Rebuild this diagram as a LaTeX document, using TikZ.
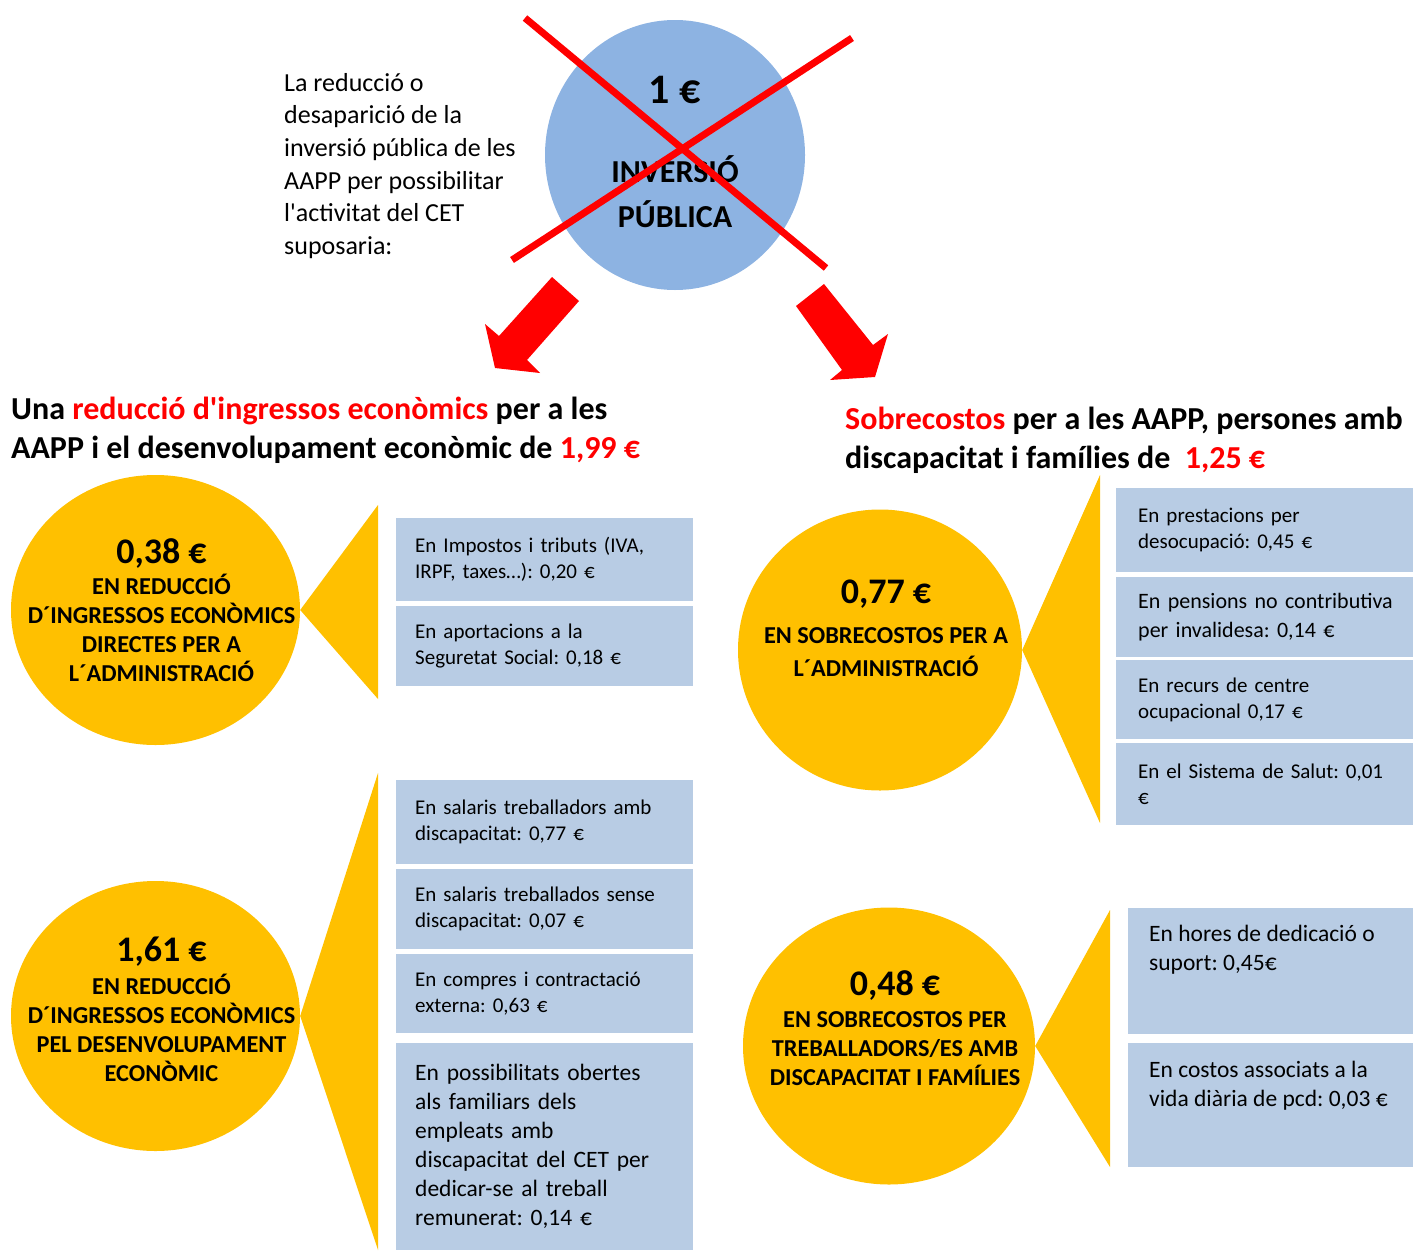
\documentclass[tikz,border=0pt]{standalone}
\usepackage{fontspec}
\setmainfont{Carlito}[Ligatures=TeXOff]
\usetikzlibrary{shapes.geometric}
\frenchspacing

\definecolor{coinyellow}{RGB}{255,192,0}
\definecolor{itemblue}{RGB}{184,204,228}
\definecolor{investblue}{RGB}{141,179,226}
\definecolor{crossred}{RGB}{255,0,0}

\newcommand{\redtxt}[1]{\textcolor{crossred}{#1}}
\newcommand{\itemfont}{\fontsize{21}{26}\selectfont}
\newcommand{\itemfontbig}{\fontsize{23.5}{29}\selectfont}
\newcommand{\capsfont}{\fontsize{24.3}{29}\selectfont\bfseries}
\newcommand{\sumfont}{\fontsize{36}{40}\selectfont\bfseries}
\newcommand{\headfont}{\fontsize{32}{39}\selectfont\bfseries}

\begin{document}
\begin{tikzpicture}[x=1pt,y=-1pt]
\tikzstyle{every node}+=[inner sep=0pt]
\tikzstyle{coin}=[ellipse, fill=coinyellow]
\tikzstyle{cointext}=[align=center, font=\capsfont, xshift=6pt]
\tikzstyle{item}=[anchor=north west, fill=itemblue, align=left, font=\itemfont, inner xsep=19pt, text width=259pt]
\tikzstyle{itemR}=[item, inner xsep=22pt, text width=275pt]
\tikzstyle{head}=[anchor=north west, align=left, font=\headfont]
\useasboundingbox (0,0) rectangle (1413,1250);

% crossed out investment
\node [ellipse, fill=investblue, minimum width=260pt, minimum height=270pt] (invest) at (675,155) {};
\node [font=\fontsize{42}{46}\selectfont\bfseries] (investsum) at (675,90) {1 €};
\node [align=center, font=\fontsize{32}{45}\selectfont\bfseries] (investlbl) at (675,192) {INVERSIÓ\\PÚBLICA};
\draw [crossred, line width=7pt] (525,18) -- (826,268);
\draw [crossred, line width=7pt] (852,38) -- (512,260);
\node [anchor=north west, align=left, font=\fontsize{26}{32.6}\selectfont] (intro) at (284,73) {La reducció o\\desaparició de la\\inversió pública de les\\AAPP per possibilitar\\l'activitat del CET\\suposaria:};

% block arrows
\fill [crossred] (552,277) -- (579,301) -- (527,360) -- (540,373) -- (495,368) -- (485,324) -- (499,336) -- cycle;
\fill [crossred] (796,306) -- (824,284) -- (873,345) -- (888,334) -- (875,377) -- (830,380) -- (842,370) -- cycle;

\node [head] (headL) at (11,397) {Una \redtxt{reducció d'ingressos econòmics} per a les\\AAPP i el desenvolupament econòmic de \redtxt{1,99 €}};
\node [head] (headR) at (845,407) {\redtxt{Sobrecostos} per a les AAPP, persones amb\\discapacitat i famílies de\ \ \redtxt{1,25 €}};

% left: income reduction
\node [coin, minimum width=289pt, minimum height=270pt] (coinA) at (155.5,610) {};
\fill [coinyellow] (coinA.east) -- (378,505) -- (378,699) -- cycle;
\node [cointext] (coinAtxt) at (coinA) {{\sumfont 0,38 €}\\[1.5pt]EN REDUCCIÓ\\D´INGRESSOS ECONÒMICS\\DIRECTES PER A\\L´ADMINISTRACIÓ};
\node [item, minimum height=83pt] (itemA1) at (396,518) {En Impostos i tributs (IVA,\\IRPF, taxes…): 0,20 €};
\node [item, minimum height=80pt] (itemA2) at (396,606) {En aportacions a la\\Seguretat Social: 0,18 €};

\node [coin, minimum width=289pt, minimum height=270pt] (coinB) at (155.5,1016) {};
\fill [coinyellow] (coinB.east) -- (378,773) -- (378,1250) -- cycle;
\node [cointext, yshift=6.5pt] (coinBtxt) at (coinB) {{\sumfont 1,61 €}\\[3.5pt]EN REDUCCIÓ\\D´INGRESSOS ECONÒMICS\\PEL DESENVOLUPAMENT\\ECONÒMIC};
\node [item, minimum height=84pt] (itemB1) at (396,780) {En salaris treballadors amb\\discapacitat: 0,77 €};
\node [item, minimum height=80pt] (itemB2) at (396,869) {En salaris treballados sense\\discapacitat: 0,07 €};
\node [item, minimum height=79pt] (itemB3) at (396,954) {En compres i contractació\\externa: 0,63 €};
\node [item, minimum height=207pt, font=\itemfontbig] (itemB4) at (396,1043) {En possibilitats obertes\\als familiars dels\\empleats amb\\discapacitat del CET per\\dedicar-se al treball\\remunerat: 0,14 €};

% right: extra costs
\node [coin, minimum width=284pt, minimum height=281pt] (coinC) at (880,650) {};
\fill [coinyellow] (coinC.east) -- (1100,475) -- (1100,823) -- cycle;
\node [cointext, yshift=22pt, font=\fontsize{24.3}{33}\selectfont\bfseries] (coinCtxt) at (coinC) {{\sumfont 0,77 €}\\[7pt]EN SOBRECOSTOS PER A\\L´ADMINISTRACIÓ};
\node [itemR, minimum height=84pt] (itemC1) at (1116,488) {En prestacions per\\desocupació: 0,45 €};
\node [itemR, minimum height=80pt, font=\fontsize{22}{29}\selectfont] (itemC2) at (1116,577) {En pensions no contributiva\\per invalidesa: 0,14 €};
\node [itemR, minimum height=79pt] (itemC3) at (1116,660) {En recurs de centre\\ocupacional 0,17 €};
\node [itemR, minimum height=82pt] (itemC4) at (1116,743) {En el Sistema de Salut: 0,01\\€};

\node [coin, minimum width=292pt, minimum height=277pt] (coinD) at (889,1046) {};
\fill [coinyellow] (coinD.east) -- (1110,910) -- (1110,1167) -- cycle;
\node [cointext, yshift=18pt] (coinDtxt) at (coinD) {{\sumfont 0,48 €}\\[3pt]EN SOBRECOSTOS PER\\TREBALLADORS/ES AMB\\DISCAPACITAT I FAMÍLIES};
\node [itemR, minimum height=126pt, inner xsep=20pt] (itemD1) at (1128,908) {};
\node [itemR, minimum height=124pt, inner xsep=20pt] (itemD2) at (1128,1043) {};
\node [anchor=north west, align=left, font=\itemfontbig] (itemD1txt) at (1149,925) {En hores de dedicació o\\suport: 0,45€};
\node [anchor=north west, align=left, font=\itemfontbig] (itemD2txt) at (1149,1061) {En costos associats a la\\vida diària de pcd: 0,03 €};
\end{tikzpicture}
\end{document}
